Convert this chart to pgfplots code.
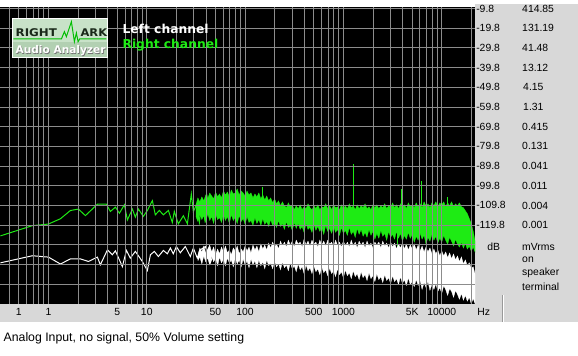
\documentclass[border=0pt]{standalone}
\usepackage{fontspec}
\setmainfont{Liberation Sans}
\newfontfamily\dejavu{DejaVu Sans}
\usepackage{pgfplots}
\pgfplotsset{compat=1.18}
\definecolor{panel}{RGB}{216,216,216}
\definecolor{gridc}{RGB}{140,140,140}
\definecolor{specgreen}{RGB}{30,235,20}
\definecolor{logobg}{RGB}{200,226,200}
\definecolor{logobot}{RGB}{178,208,178}
\definecolor{logotext}{RGB}{25,40,25}
\definecolor{logoline}{RGB}{0,190,0}
\begin{document}
\begin{tikzpicture}[x=1pt,y=1pt]
\fill[white] (0,0) rectangle (578,356);
\fill[panel] (475,34) rectangle (578,352);
\fill[panel] (0,34) rectangle (475,52);
\draw[gray!80, line width=0.8pt] (502,34) -- (502,61);
\draw[white, line width=0.8pt] (503,34) -- (503,61);
\begin{axis}[
  at={(0pt,52pt)}, anchor=south west,
  width=475pt, height=297pt, scale only axis,
  xmin=-0.488, xmax=4.339, ymin=-159.8, ymax=-9.0,
  axis background/.style={fill=black},
  axis line style={draw=none},
  axis on top,
  xtick={-0.30103,0,0.69897,1,1.69897,2,2.69897,3,3.69897,4},
  xticklabels={1,1,5,10,50,100,500,1000,5K,10000},
  minor xtick={-0.39794,-0.22185,-0.15490,-0.09691,-0.04576,
    0.30103,0.47712,0.60206,0.77815,0.84510,0.90309,0.95424,
    1.30103,1.47712,1.60206,1.77815,1.84510,1.90309,1.95424,
    2.30103,2.47712,2.60206,2.77815,2.84510,2.90309,2.95424,
    3.30103,3.47712,3.60206,3.77815,3.84510,3.90309,3.95424,
    4.30103},
  ytick={-9.8,-19.8,-29.8,-39.8,-49.8,-59.8,-69.8,-79.8,-89.8,-99.8,-109.8,-119.8,-129.8,-139.8,-149.8},
  yticklabels={-9.8,-19.8,-29.8,-39.8,-49.8,-59.8,-69.8,-79.8,-89.8,-99.8,-109.8,-119.8,{},{},{}},
  yticklabel pos=right,
  major tick length=0pt, minor tick length=0pt,
  grid=both,
  major grid style={gridc, line width=0.9pt},
  minor grid style={gridc, line width=0.9pt},
  ticklabel style={font=\fontsize{10.4}{12}\selectfont, inner sep=0pt},
  xticklabel style={anchor=base, yshift=-12pt},
  yticklabel style={anchor=west, xshift=1pt},
]
% Right channel: dense noise band (upper edge, then lower edge)
\addplot[fill=specgreen, draw=specgreen, line width=0.3pt] coordinates {
(1.50,-109.5)(1.52,-106.0)(1.54,-108.0)(1.56,-105.5)(1.58,-107.5)(1.60,-104.5)(1.62,-106.5)(1.64,-103.5)(1.66,-105.0)(1.68,-106.5)
(1.70,-103.0)(1.72,-105.5)(1.74,-104.0)(1.76,-106.0)(1.78,-102.5)(1.80,-104.5)(1.82,-103.0)(1.84,-105.5)(1.86,-102.0)(1.88,-104.0)
(1.90,-103.5)(1.92,-101.5)(1.94,-104.5)(1.96,-102.5)(1.98,-103.5)(2.00,-105.0)(2.02,-102.5)(2.04,-104.5)(2.06,-103.5)(2.08,-106.0)
(2.10,-104.0)(2.12,-105.5)(2.14,-103.5)(2.16,-106.5)(2.18,-104.5)(2.20,-107.0)(2.22,-105.0)(2.24,-107.5)(2.26,-106.0)(2.28,-108.5)
(2.30,-106.5)(2.32,-109.0)(2.34,-107.5)(2.36,-110.0)(2.38,-108.0)(2.40,-110.0)(2.42,-111.0)(2.44,-108.5)(2.46,-110.5)(2.48,-109.5)
(2.50,-112.0)(2.52,-110.0)(2.54,-111.5)(2.56,-109.5)(2.58,-112.0)(2.60,-110.5)(2.62,-111.5)(2.64,-109.0)(2.66,-111.0)(2.68,-112.0)
(2.70,-110.0)(2.72,-111.5)(2.74,-109.5)(2.76,-112.0)(2.78,-110.5)(2.80,-111.0)(2.82,-109.0)(2.84,-111.5)(2.86,-110.0)(2.88,-112.0)
(2.90,-109.5)(2.92,-111.0)(2.94,-110.5)(2.96,-112.0)(2.98,-109.5)(3.00,-111.5)(3.02,-110.0)(3.04,-111.5)(3.06,-109.0)(3.08,-111.0)
(3.10,-110.0)(3.12,-112.0)(3.14,-109.5)(3.16,-111.5)(3.18,-110.0)(3.20,-111.0)(3.22,-109.0)(3.24,-111.5)(3.26,-110.5)(3.28,-112.0)
(3.30,-109.5)(3.32,-111.0)(3.34,-109.5)(3.36,-111.5)(3.38,-110.0)(3.40,-111.0)(3.42,-109.0)(3.44,-111.5)(3.46,-110.0)(3.48,-111.0)
(3.50,-108.5)(3.52,-111.0)(3.54,-109.5)(3.56,-111.5)(3.58,-109.0)(3.60,-110.5)(3.62,-109.5)(3.64,-111.5)(3.66,-108.5)(3.68,-110.5)
(3.70,-109.5)(3.72,-111.0)(3.74,-108.5)(3.76,-110.5)(3.78,-109.0)(3.80,-111.0)(3.82,-108.0)(3.84,-110.0)(3.86,-109.0)(3.88,-111.0)
(3.90,-108.5)(3.92,-110.0)(3.94,-108.0)(3.96,-110.5)(3.98,-108.5)(4.00,-109.5)(4.02,-108.0)(4.04,-110.5)(4.06,-108.5)(4.08,-110.0)
(4.10,-108.0)(4.12,-110.5)(4.14,-109.0)(4.16,-110.0)(4.18,-108.5)(4.20,-110.5)(4.22,-111.0)(4.24,-112.5)(4.26,-114.0)(4.28,-116.5)
(4.30,-119.0)(4.32,-123.0)(4.339,-128.0)
(4.339,-133.5)(4.32,-131.0)(4.30,-133.0)(4.28,-130.5)(4.26,-132.0)(4.24,-129.0)(4.22,-131.5)(4.20,-128.5)(4.18,-131.0)(4.16,-129.5)
(4.14,-127.0)(4.12,-130.5)(4.10,-128.0)(4.08,-126.0)(4.06,-129.5)(4.04,-127.5)(4.02,-125.0)(4.00,-128.5)(3.98,-126.5)(3.96,-129.0)
(3.94,-125.5)(3.92,-127.5)(3.90,-124.5)(3.88,-128.0)(3.86,-126.0)(3.84,-129.5)(3.82,-125.0)(3.80,-127.0)(3.78,-124.0)(3.76,-127.5)
(3.74,-125.5)(3.72,-128.5)(3.70,-124.5)(3.68,-126.5)(3.66,-123.5)(3.64,-127.0)(3.62,-125.0)(3.60,-128.0)(3.58,-124.0)(3.56,-126.5)
(3.54,-123.0)(3.52,-127.0)(3.50,-124.5)(3.48,-126.0)(3.46,-123.0)(3.44,-127.5)(3.42,-124.0)(3.40,-125.5)(3.38,-122.5)(3.36,-126.5)
(3.34,-124.0)(3.32,-127.0)(3.30,-123.0)(3.28,-125.0)(3.26,-122.0)(3.24,-126.0)(3.22,-123.5)(3.20,-125.5)(3.18,-122.0)(3.16,-124.5)
(3.14,-121.5)(3.12,-126.0)(3.10,-123.0)(3.08,-124.5)(3.06,-121.0)(3.04,-125.0)(3.02,-122.5)(3.00,-124.0)(2.98,-121.0)(2.96,-125.0)
(2.94,-122.0)(2.92,-123.5)(2.90,-120.5)(2.88,-124.0)(2.86,-121.5)(2.84,-123.0)(2.82,-120.0)(2.80,-124.5)(2.78,-121.0)(2.76,-123.0)
(2.74,-120.5)(2.72,-122.5)(2.70,-119.5)(2.68,-123.5)(2.66,-121.0)(2.64,-122.0)(2.62,-119.0)(2.60,-123.5)(2.58,-120.5)(2.56,-122.0)
(2.54,-119.0)(2.52,-121.5)(2.50,-118.5)(2.48,-122.5)(2.46,-120.0)(2.44,-121.0)(2.42,-118.0)(2.40,-122.0)(2.38,-119.0)(2.36,-120.5)
(2.34,-117.5)(2.32,-121.0)(2.30,-118.5)(2.28,-120.0)(2.26,-117.0)(2.24,-120.5)(2.22,-118.0)(2.20,-119.5)(2.18,-116.5)(2.16,-120.0)
(2.14,-117.0)(2.12,-119.0)(2.10,-116.0)(2.08,-120.0)(2.06,-117.5)(2.04,-118.5)(2.02,-115.5)(2.00,-119.5)(1.98,-116.5)(1.96,-118.0)
(1.94,-115.0)(1.92,-119.0)(1.90,-116.0)(1.88,-117.5)(1.86,-114.5)(1.84,-119.0)(1.82,-115.5)(1.80,-117.5)(1.78,-114.5)(1.76,-118.5)
(1.74,-116.0)(1.72,-117.0)(1.70,-114.0)(1.68,-119.0)(1.66,-115.5)(1.64,-117.5)(1.62,-114.0)(1.60,-118.5)(1.58,-115.0)(1.56,-117.0)
(1.54,-114.5)(1.52,-118.0)(1.50,-115.5)
};
% Right channel: low-frequency trace
\addplot[specgreen, line width=1pt] coordinates {
(-0.488,-125.3)(-0.163,-120.1)(0,-119.3)(0.122,-116.6)(0.224,-112.4)(0.305,-111.7)(0.376,-115.0)(0.498,-109.2)(0.589,-109.2)(0.630,-112.9)
(0.681,-110.7)(0.722,-113.8)(0.772,-109.5)(0.803,-117.2)(0.854,-111.7)(0.884,-115.8)(0.915,-111.7)(0.965,-115.4)(1.006,-112.4)(1.057,-107.4)
(1.087,-114.6)(1.128,-112.4)(1.169,-114.6)(1.220,-112.4)(1.260,-118.5)(1.280,-112.9)(1.321,-119.2)(1.372,-115.1)(1.413,-119.2)(1.453,-104.0)
(1.474,-113.1)(1.504,-109.5)(1.535,-118.5)(1.56,-108.0)(1.59,-117.0)(1.62,-106.0)(1.65,-116.0)
};
% Right channel: spurious lines
\addplot[specgreen, line width=0.9pt] coordinates {(1.697,-112) (1.697,-96.9)};
\addplot[specgreen, line width=0.9pt] coordinates {(2.175,-108) (2.175,-100.5)};
\addplot[specgreen, line width=0.9pt] coordinates {(3.100,-112) (3.100,-88.9)};
\addplot[specgreen, line width=0.9pt] coordinates {(3.587,-111) (3.587,-101.6)};
\addplot[specgreen, line width=0.9pt] coordinates {(3.791,-110) (3.791,-97.4)};
\addplot[specgreen, line width=0.9pt] coordinates {(4.055,-109) (4.055,-105.5)};
\addplot[specgreen, line width=0.9pt] coordinates {(3.547,-124) (3.547,-134.9)};
% Left channel: dense noise band (upper edge, then lower edge)
\addplot[fill=white, draw=white, line width=0.3pt] coordinates {
(1.52,-135.0)(1.54,-131.5)(1.56,-133.5)(1.58,-130.5)(1.60,-134.0)(1.62,-132.0)(1.64,-130.0)(1.66,-133.5)(1.68,-131.0)(1.70,-135.0)
(1.72,-132.0)(1.74,-134.5)(1.76,-131.0)(1.78,-133.5)(1.80,-130.5)(1.82,-134.0)(1.84,-132.5)(1.86,-135.0)(1.88,-131.5)(1.90,-133.0)
(1.92,-130.5)(1.94,-134.5)(1.96,-132.0)(1.98,-133.5)(2.00,-130.5)(2.02,-133.0)(2.04,-131.0)(2.06,-134.0)(2.08,-130.0)(2.10,-132.5)
(2.12,-130.5)(2.14,-133.5)(2.16,-129.5)(2.18,-132.0)(2.20,-130.0)(2.22,-132.5)(2.24,-129.0)(2.26,-131.5)(2.28,-128.5)(2.30,-131.0)
(2.32,-129.5)(2.34,-132.0)(2.36,-128.0)(2.38,-130.5)(2.40,-128.5)(2.42,-131.0)(2.44,-127.5)(2.46,-130.0)(2.48,-128.0)(2.50,-131.0)
(2.52,-127.5)(2.54,-129.5)(2.56,-128.5)(2.58,-131.0)(2.60,-127.0)(2.62,-130.0)(2.64,-128.0)(2.66,-130.5)(2.68,-127.5)(2.70,-129.5)
(2.72,-128.5)(2.74,-131.0)(2.76,-127.5)(2.78,-130.0)(2.80,-128.0)(2.82,-130.5)(2.84,-127.5)(2.86,-129.5)(2.88,-128.5)(2.90,-131.0)
(2.92,-127.5)(2.94,-130.0)(2.96,-128.5)(2.98,-131.0)(3.00,-128.0)(3.02,-130.5)(3.04,-128.5)(3.06,-131.0)(3.08,-127.5)(3.10,-130.5)
(3.12,-128.5)(3.14,-131.5)(3.16,-128.0)(3.18,-130.0)(3.20,-128.5)(3.22,-131.5)(3.24,-128.0)(3.26,-130.5)(3.28,-129.0)(3.30,-131.5)
(3.32,-128.5)(3.34,-130.0)(3.36,-128.5)(3.38,-131.5)(3.40,-128.0)(3.42,-130.5)(3.44,-129.0)(3.46,-131.5)(3.48,-128.5)(3.50,-131.0)
(3.52,-129.0)(3.54,-132.0)(3.56,-129.5)(3.58,-131.5)(3.60,-129.0)(3.62,-132.0)(3.64,-129.5)(3.66,-132.5)(3.68,-130.0)(3.70,-132.0)
(3.72,-129.5)(3.74,-132.5)(3.76,-130.0)(3.78,-133.0)(3.80,-130.5)(3.82,-133.5)(3.84,-131.0)(3.86,-133.5)(3.88,-131.5)(3.90,-134.5)
(3.92,-132.0)(3.94,-134.5)(3.96,-132.5)(3.98,-135.5)(4.00,-133.0)(4.02,-135.5)(4.04,-133.5)(4.06,-136.5)(4.08,-134.0)(4.10,-137.0)
(4.12,-134.5)(4.14,-137.5)(4.16,-135.5)(4.18,-138.5)(4.20,-136.0)(4.22,-139.5)(4.24,-137.5)(4.26,-140.5)(4.28,-139.0)(4.30,-142.0)
(4.32,-141.0)(4.339,-145.0)
(4.339,-159.8)(4.32,-157.0)(4.30,-159.8)(4.28,-156.5)(4.26,-158.5)(4.24,-155.5)(4.22,-158.0)(4.20,-154.5)(4.18,-157.5)(4.16,-155.0)
(4.14,-153.0)(4.12,-156.5)(4.10,-153.5)(4.08,-152.0)(4.06,-155.5)(4.04,-152.5)(4.02,-150.5)(4.00,-154.5)(3.98,-151.5)(3.96,-153.5)
(3.94,-149.5)(3.92,-152.5)(3.90,-150.0)(3.88,-153.0)(3.86,-148.5)(3.84,-151.5)(3.82,-149.0)(3.80,-152.5)(3.78,-148.0)(3.76,-150.5)
(3.74,-147.5)(3.72,-151.0)(3.70,-148.5)(3.68,-150.0)(3.66,-146.5)(3.64,-150.5)(3.62,-147.5)(3.60,-149.5)(3.58,-146.0)(3.56,-150.0)
(3.54,-147.0)(3.52,-148.5)(3.50,-145.5)(3.48,-149.5)(3.46,-146.5)(3.44,-148.0)(3.42,-145.0)(3.40,-149.0)(3.38,-146.0)(3.36,-147.5)
(3.34,-144.5)(3.32,-148.5)(3.30,-145.5)(3.28,-147.0)(3.26,-144.0)(3.24,-148.0)(3.22,-145.0)(3.20,-146.5)(3.18,-143.5)(3.16,-147.5)
(3.14,-144.5)(3.12,-146.0)(3.10,-143.0)(3.08,-147.0)(3.06,-144.0)(3.04,-145.5)(3.02,-142.5)(3.00,-146.5)(2.98,-143.5)(2.96,-145.0)
(2.94,-142.0)(2.92,-146.0)(2.90,-143.0)(2.88,-144.5)(2.86,-141.5)(2.84,-145.5)(2.82,-142.5)(2.80,-144.0)(2.78,-141.0)(2.76,-145.0)
(2.74,-142.0)(2.72,-143.5)(2.70,-140.5)(2.68,-144.5)(2.66,-141.5)(2.64,-143.0)(2.62,-140.0)(2.60,-144.5)(2.58,-141.0)(2.56,-142.5)
(2.54,-139.5)(2.52,-143.5)(2.50,-140.5)(2.48,-142.0)(2.46,-139.0)(2.44,-143.0)(2.42,-140.0)(2.40,-141.5)(2.38,-138.5)(2.36,-142.5)
(2.34,-139.5)(2.32,-141.0)(2.30,-138.0)(2.28,-142.0)(2.26,-139.0)(2.24,-140.5)(2.22,-137.5)(2.20,-142.0)(2.18,-138.5)(2.16,-140.5)
(2.14,-137.5)(2.12,-141.5)(2.10,-138.0)(2.08,-140.0)(2.06,-137.0)(2.04,-141.5)(2.02,-138.0)(2.00,-140.0)(1.98,-137.0)(1.96,-141.0)
(1.94,-137.5)(1.92,-139.5)(1.90,-136.5)(1.88,-141.0)(1.86,-137.5)(1.84,-139.0)(1.82,-136.5)(1.80,-140.5)(1.78,-137.0)(1.76,-139.0)
(1.74,-136.0)(1.72,-140.5)(1.70,-136.5)(1.68,-138.5)(1.66,-135.5)(1.64,-140.0)(1.62,-136.5)(1.60,-138.5)(1.58,-135.5)(1.56,-139.5)
(1.54,-136.0)(1.52,-138.0)
};
% Left channel: low-frequency trace
\addplot[white, line width=1pt] coordinates {
(-0.488,-139.0)(-0.163,-135.4)(0,-136.1)(0.122,-139.6)(0.224,-137.0)(0.325,-137.0)(0.407,-138.3)(0.498,-136.1)(0.528,-140.0)(0.600,-132.4)
(0.650,-134.9)(0.681,-132.9)(0.752,-140.9)(0.793,-132.7)(0.833,-136.6)(0.884,-133.2)(0.955,-138.3)(1.006,-142.9)(1.037,-134.9)(1.077,-133.2)
(1.118,-135.8)(1.169,-132.7)(1.209,-134.4)(1.240,-131.5)(1.270,-134.4)(1.301,-130.7)(1.341,-133.9)(1.392,-130.7)(1.443,-135.8)(1.474,-131.5)
(1.514,-136.6)(1.545,-132.4)(1.596,-130.7)(1.646,-139.0)(1.677,-134.9)(1.70,-138.0)
};
\addplot[white, line width=0.9pt] coordinates {(1.697,-138) (1.697,-120)};
\end{axis}
% right panel: mVrms column
\begin{scope}[every node/.style={anchor=west, inner sep=0pt, font=\fontsize{10.4}{12}\selectfont}]
\node at (522,347.4) {414.85};
\node at (522,327.7) {131.19};
\node at (522,308.0) {41.48};
\node at (522,288.3) {13.12};
\node at (523,268.6) {4.15};
\node at (523,248.9) {1.31};
\node at (522,229.2) {0.415};
\node at (522,209.5) {0.131};
\node at (522,189.8) {0.041};
\node at (522,170.1) {0.011};
\node at (522,150.4) {0.004};
\node at (522,130.7) {0.001};
\node at (487,109) {dB};
\node at (522,109) {mVrms};
\node at (522,96.5) {on};
\node at (522,83) {speaker};
\node at (522,69) {terminal};
\node at (477,44) {Hz};
\end{scope}
% caption
\node[anchor=base west, inner sep=0pt, font=\fontsize{12.3}{14}\selectfont] at (3,14) {Analog Input, no signal, 50\% Volume setting};
% legend
\node[anchor=base west, inner sep=0pt, text=white, font=\dejavu\bfseries\fontsize{12.3}{14}\selectfont] at (122,322.7) {Left channel};
\node[anchor=base west, inner sep=0pt, text=specgreen, font=\dejavu\bfseries\fontsize{12.3}{14}\selectfont] at (122,307) {Right channel};
% logo
\fill[logobg] (12,298) rectangle (107,337);
\fill[logobot] (12,298) rectangle (107,314);
\draw[white, line width=1pt] (12,298) rectangle (107,337);
\draw[logoline, line width=1pt] (13,317) -- (61,317) -- (64,324.3) -- (66,319.3) -- (71,334.3) -- (74,314.3) -- (76,323) -- (77.7,314.3) -- (79.3,317) -- (106,317);
\node[anchor=base west, inner sep=0pt, text=logotext, font=\dejavu\bfseries\fontsize{10.6}{12}\selectfont, xscale=1.12] at (15,319.5) {RIGHT};
\node[anchor=base west, inner sep=0pt, text=logotext, font=\dejavu\bfseries\fontsize{10.6}{12}\selectfont, xscale=1.08] at (80,319.5) {ARK};
\node[anchor=base west, inner sep=0pt, text=black!55, font=\dejavu\bfseries\fontsize{10.6}{12}\selectfont] at (15.7,301.3) {Audio Analyzer};
\node[anchor=base west, inner sep=0pt, text=white, font=\dejavu\bfseries\fontsize{10.6}{12}\selectfont] at (15,302) {Audio Analyzer};
\end{tikzpicture}
\end{document}
